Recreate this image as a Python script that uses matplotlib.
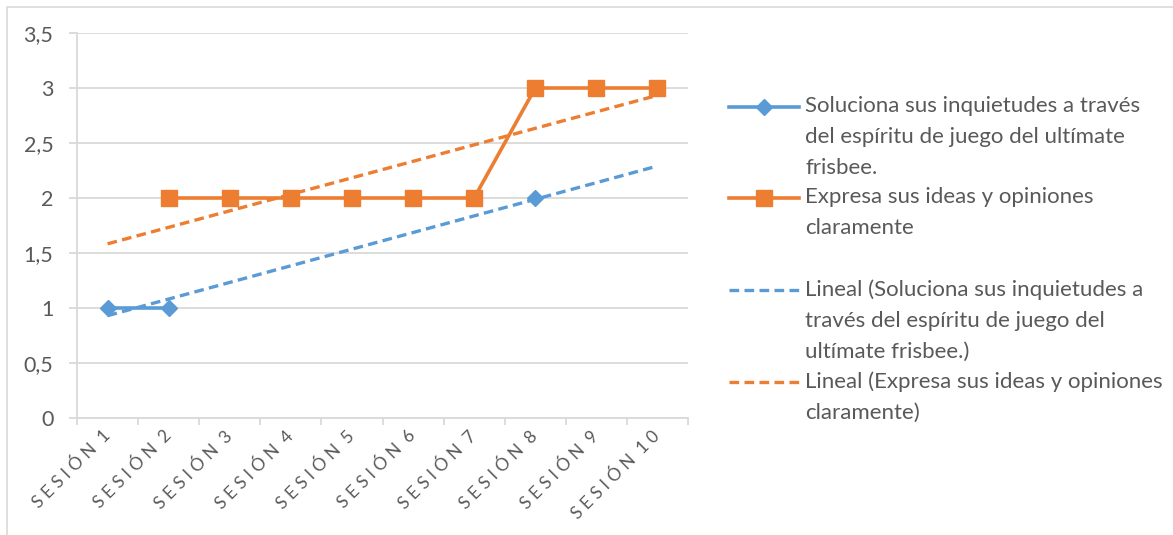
import numpy as np
import matplotlib
matplotlib.use('Agg')
from matplotlib import pyplot as plt
from matplotlib.lines import Line2D
from matplotlib.patches import Rectangle

plt.rcParams['font.family'] = ['Lato', 'DejaVu Sans']

# data
sessions = ['SESIÓN 1', 'SESIÓN 2', 'SESIÓN 3', 'SESIÓN 4', 'SESIÓN 5',
            'SESIÓN 6', 'SESIÓN 7', 'SESIÓN 8', 'SESIÓN 9', 'SESIÓN 10']
soluciona = [1, 1, None, None, None, None, None, 2, None, None]
expresa = [None, 2, 2, 2, 2, 2, 2, 3, 3, 3]
yticks = [0, 0.5, 1, 1.5, 2, 2.5, 3, 3.5]
ytick_labels = ['0', '0,5', '1', '1,5', '2', '2,5', '3', '3,5']
labels = ['Soluciona sus inquietudes a través\ndel espíritu de juego del ultímate\nfrisbee.',
          'Expresa sus ideas y opiniones\nclaramente',
          'Lineal (Soluciona sus inquietudes a\ntravés del espíritu de juego del\nultímate frisbee.)',
          'Lineal (Expresa sus ideas y opiniones\nclaramente)']

blue = '#5B9BD5'
orange = '#ED7D31'
grid_c = '#D9D9D9'
text_c = '#595959'

W, H = 1173, 535
fig = plt.figure(figsize=(W / 100, H / 100), dpi=100)
ax = fig.add_axes([77 / W, 1 - 418 / H, (688 - 77) / W, (418 - 33) / H])

x = np.arange(1, len(sessions) + 1)
y1 = np.array([np.nan if v is None else v for v in soluciona], dtype=float)
y2 = np.array([np.nan if v is None else v for v in expresa], dtype=float)

# series
ax.plot(x, y1, color=blue, lw=2.6, marker='D', ms=8.5, zorder=3)
ax.plot(x, y2, color=orange, lw=2.6, marker='s', ms=11.5, zorder=3)

# linear trendlines (like Excel "Lineal")
dash = (2.9, 1.6)
for y, c in [(y1, blue), (y2, orange)]:
    m = ~np.isnan(y)
    k, b = np.polyfit(x[m], y[m], 1)
    xt = np.array([x[0], x[-1]])
    ax.plot(xt, k * xt + b, color=c, lw=2.4, dashes=dash, zorder=4)

ax.set_xlim(0.5, len(sessions) + 0.5)
ax.set_ylim(0, 3.5)
ax.set_yticks(yticks)
ax.set_yticklabels(ytick_labels)
ax.yaxis.grid(True, color=grid_c, lw=1.3)
ax.set_axisbelow(True)


def spaced(s):
    word, num = s.split(' ')
    return ' '.join(word) + '  ' + ' '.join(num)


ax.set_xticks(np.arange(0.5, len(sessions) + 1, 1))
ax.set_xticklabels([])
ax.set_xticks(x, minor=True)
ax.set_xticklabels([spaced(s) for s in sessions], minor=True,
                   rotation=45, ha='right', va='center', rotation_mode='anchor',
                   fontsize=12.5, color=text_c)
ax.tick_params(axis='x', which='minor', length=0, pad=11)
ax.tick_params(axis='x', which='major', length=5, color=grid_c, width=1.3)
ax.tick_params(axis='y', length=6, color=grid_c, width=1.3, pad=11,
               labelsize=15.5, labelcolor=text_c)

for s in ['top', 'right']:
    ax.spines[s].set_visible(False)
for s in ['left', 'bottom']:
    ax.spines[s].set_color(grid_c)
    ax.spines[s].set_linewidth(1.3)

# legend drawn by hand so each entry takes the same height like Excel
styles = [dict(color=blue, lw=2.6, marker='D', ms=8),
          dict(color=orange, lw=2.6, marker='s', ms=11.5),
          dict(color=blue, lw=2.4, dashes=dash),
          dict(color=orange, lw=2.4, dashes=dash)]
row_y = [107, 198, 290, 382]
for lab, st, yy in zip(labels, styles, row_y):
    fy = 1 - yy / H
    if 'marker' in st:
        fig.add_artist(Line2D([729 / W, 799 / W], [fy, fy], transform=fig.transFigure,
                              color=st['color'], lw=st['lw']))
        fig.add_artist(Line2D([764 / W], [fy], transform=fig.transFigure, ls='none',
                              color=st['color'], marker=st['marker'], ms=st['ms']))
    else:
        fig.add_artist(Line2D([729 / W, 799 / W], [fy, fy], transform=fig.transFigure, **st))
    fig.text(805 / W, fy + 11 / H, lab, ha='left', va='top', fontsize=16, color=text_c,
             linespacing=1.7)

# chart border
fig.add_artist(Rectangle((7 / W, -0.1), 1.2, 1 - 7 / H + 0.1, transform=fig.transFigure,
                         fill=False, edgecolor=grid_c, lw=1.2))

fig.savefig('out.png', dpi=100)
